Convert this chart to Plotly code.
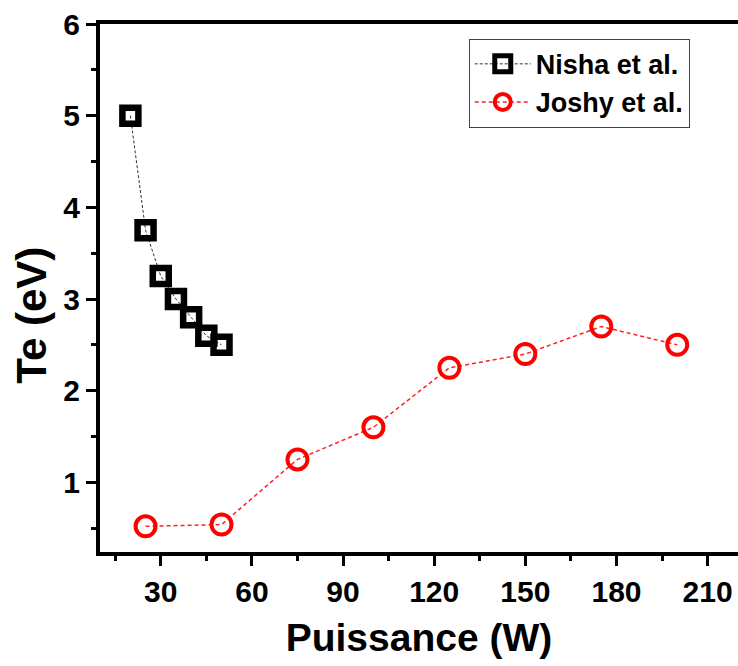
import plotly.graph_objects as go

# Data
nisha_power = [20, 25, 30, 35, 40, 45, 50]
nisha_te = [5.0, 3.75, 3.25, 3.0, 2.8, 2.6, 2.5]
joshy_power = [25, 50, 75, 100, 125, 150, 175, 200]
joshy_te = [0.52, 0.54, 1.25, 1.6, 2.25, 2.4, 2.7, 2.5]

x_ticks = [30, 60, 90, 120, 150, 180, 210]
y_ticks = [1, 2, 3, 4, 5, 6]

FONT = "Liberation Sans, Arial, sans-serif"

fig = go.Figure()
fig.add_trace(go.Scatter(
    x=nisha_power, y=nisha_te, name="Nisha et al.", mode="lines+markers",
    line=dict(color="#333333", width=1, dash="3px,2px"),
    marker=dict(symbol="square-open", size=16, color="black",
                line=dict(width=6.5, color="black")),
))
fig.add_trace(go.Scatter(
    x=joshy_power, y=joshy_te, name="Joshy et al.", mode="lines+markers",
    line=dict(color="#ff2020", width=1.5, dash="4px,3px"),
    marker=dict(symbol="circle-open", size=20, color="#ff0000",
                line=dict(width=4, color="#ff0000")),
))

fig.update_layout(
    width=738, height=666,
    margin=dict(l=100, r=0, t=24, b=114),
    paper_bgcolor="white", plot_bgcolor="white",
    font=dict(family=FONT, color="black"),
    showlegend=True,
    legend=dict(
        x=0.578, y=0.972, xanchor="left", yanchor="top",
        bgcolor="white", bordercolor="#444444", borderwidth=1,
        font=dict(family=FONT, size=27, weight="bold", color="black"),
        itemwidth=56, tracegroupgap=0,
    ),
    xaxis=dict(
        range=[10, 220], tickvals=x_ticks, ticks="outside", ticklen=10, tickwidth=3,
        tickcolor="black", showline=True, linewidth=4, linecolor="black", mirror=True,
        showgrid=False, zeroline=False,
        tickfont=dict(family=FONT, size=30, weight="bold"),
        minor=dict(dtick=15, tick0=0, ticks="outside", ticklen=5, tickwidth=3, tickcolor="black"),
        title=dict(text="Puissance (W)", font=dict(family=FONT, size=39, weight="bold"), standoff=18),
    ),
    yaxis=dict(
        range=[0.24, 6], tickvals=y_ticks, ticks="outside", ticklen=10, tickwidth=3,
        tickcolor="black", showline=True, linewidth=4, linecolor="black", mirror=False,
        showgrid=False, zeroline=False,
        tickfont=dict(family=FONT, size=30, weight="bold"),
        minor=dict(dtick=0.5, tick0=0, ticks="outside", ticklen=5, tickwidth=3, tickcolor="black"),
    ),
    xaxis2=dict(
        overlaying="x", side="top", anchor="y", range=[0, 5], dtick=1,
        ticks="inside", ticklen=10, tickwidth=3, tickcolor="black",
        showticklabels=False, showgrid=False, zeroline=False, showline=False,
        minor=dict(dtick=0.5, ticks="inside", ticklen=5, tickwidth=3, tickcolor="black"),
    ),
    yaxis2=dict(
        overlaying="y", side="right", anchor="x", range=[0, 5], dtick=1,
        ticks="inside", ticklen=10, tickwidth=3, tickcolor="black",
        showticklabels=False, showgrid=False, zeroline=False, showline=False,
        minor=dict(dtick=0.5, ticks="inside", ticklen=5, tickwidth=3, tickcolor="black"),
    ),
    annotations=[dict(
        text="Te (eV)", textangle=-90, xref="paper", yref="paper",
        x=-0.107, y=0.449, xanchor="center", yanchor="middle", showarrow=False,
        font=dict(family=FONT, size=42, weight="bold", color="black"),
    )],
)

fig.write_html("out.html")
